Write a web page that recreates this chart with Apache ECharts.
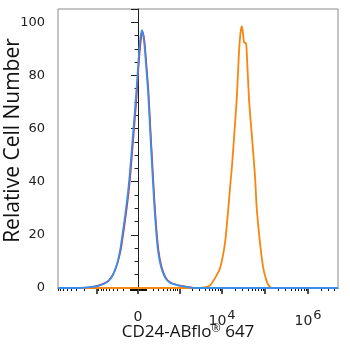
<!DOCTYPE html>
<html>
<head>
<meta charset="utf-8">
<script src="https://cdn.jsdelivr.net/npm/echarts@6/dist/echarts.min.js"></script>
<style>
  html, body { margin: 0; padding: 0; background: #fff; }
  #chart { width: 350px; height: 350px; }
</style>
</head>
<body>
<div id="chart"></div>
<script>
// Fluorescence intensity (linear units) and relative cell counts for each histogram.
const isotypeX = [-8060, -2475, -1380, -800, -510, -380, -295, -238, -203, -157, -116, -89, -52, -16, 6, 30, 54, 78, 104, 131, 159, 190, 222, 258, 297, 360, 460, 620, 960, 1650, 2400, 4980000];
const isotypeY = [0, 0, 0.3, 1.2, 2.8, 5.5, 9.5, 14, 19, 27, 36, 44, 58, 72, 83, 92, 96.5, 93, 84, 74, 60, 46, 33, 22, 14, 8, 4, 2, 1, 0.4, 0, 0];

const blankX = [-8060, -2475, -1443, -835, -531, -394, -306, -249, -214, -167, -125, -98, -60, -24, 0, 24, 48, 73, 98, 125, 153, 183, 214, 249, 286, 348, 445, 596, 932, 1608, 2346, 4980000];
const blankY = [0, 0, 0.3, 1, 2.5, 5, 9, 14, 19, 27, 36, 44, 58, 72, 83, 93, 97, 93, 84, 74, 60, 46, 33, 22, 14, 8, 4, 2, 1, 0.3, 0, 0];

const stainedX = [-8060, 3074, 4237, 5254, 6860, 8970, 11720, 14000, 16160, 17060, 19290, 21940, 24820, 26880, 28660, 30740, 32430, 36110, 37470, 42380, 49020, 58500, 64080, 76460, 91210, 109400, 123800, 145300, 4980000];
const stainedY = [0, 0, 0.3, 1, 3.7, 7.4, 17, 30, 42, 46, 58, 71, 89, 96, 98.5, 96, 92.5, 92, 89, 71, 58, 42, 30, 17, 7.4, 2.5, 0.8, 0, 0];

// Axis tick positions (linear units) and labels.
const majorTicks = [-1000, 0, 1000, 10000, 100000, 1000000];
const zeroTick = [0];
const powerTicks = { '10000': '10{sup|4}', '1000000': '10{sup|6}' };
const xRange = [-8060, 4980000];

// Biexponential-style display transform (arcsinh with a linear region around zero).
const W = 222;
const toDisplay = v => Math.asinh(v / W);

function pairs(xs, ys) {
  return xs.map((x, i) => [toDisplay(x), ys[i]]);
}

// Minor ticks: decades on both sides of zero, within the visible range.
const minorTicks = [];
for (let e = 1; e <= 6; e++) {
  for (let m = 1; m <= 9; m++) {
    const v = m * Math.pow(10, e);
    if (m === 1 && e >= 3) continue;
    if (v < xRange[1]) minorTicks.push(toDisplay(v));
    if (-v > xRange[0]) minorTicks.push(toDisplay(-v));
  }
}

const majorDisplay = majorTicks.map(toDisplay);
const powerDisplay = Object.keys(powerTicks).map(k => toDisplay(Number(k)));

function powerLabel(u) {
  for (const k of Object.keys(powerTicks)) {
    if (Math.abs(toDisplay(Number(k)) - u) < 1e-6) return powerTicks[k];
  }
  return '';
}

const chart = echarts.init(document.getElementById('chart'), null, { renderer: 'canvas' });

const axisRange = { min: toDisplay(xRange[0]), max: toDisplay(xRange[1]) };
const labelFont = { fontFamily: 'DejaVu Sans', fontSize: 14, color: '#222' };

chart.setOption({
  animation: false,
  grid: {
    left: 58, right: 12, top: 9, bottom: 62,
    outerBoundsMode: 'none', containLabel: false,
    show: true, borderColor: '#8a8a8a', borderWidth: 1, backgroundColor: '#fff'
  },
  xAxis: [
    {
      // Major ticks with power-of-ten labels
      type: 'value', position: 'bottom', ...axisRange,
      splitLine: { show: false },
      axisLine: { show: true, lineStyle: { color: '#333', width: 1 } },
      axisTick: { show: true, customValues: majorDisplay, length: 6, lineStyle: { color: '#111', width: 1.5 } },
      axisLabel: {
        customValues: powerDisplay, margin: 21,
        formatter: powerLabel,
        ...labelFont,
        rich: {
          sup: { fontFamily: 'DejaVu Sans', fontSize: 13, color: '#222', padding: [0, 0, 11, 1] }
        }
      },
      name: 'CD24-ABflo{sup|®} 647',
      nameLocation: 'middle', nameGap: 35, nameMoveOverlap: false,
      nameTextStyle: {
        fontFamily: 'Open Sans', fontSize: 17, color: '#111', padding: [0, 20, 0, 0],
        rich: { sup: { fontFamily: 'Open Sans', fontSize: 11, color: '#111', padding: [0, 0, 8, 0] } }
      }
    },
    {
      // Minor ticks and the zero label
      type: 'value', position: 'bottom', ...axisRange,
      splitLine: { show: false },
      axisLine: { show: false },
      axisTick: { show: true, customValues: minorTicks, length: 3, lineStyle: { color: '#111', width: 1 } },
      axisLabel: { show: true, customValues: zeroTick.map(toDisplay), formatter: () => '0', margin: 22, ...labelFont }
    }
  ],
  yAxis: {
    type: 'value', min: 0, max: 105, interval: 20,
    splitLine: { show: false },
    axisLine: { show: true, lineStyle: { color: '#222', width: 1 } },
    axisTick: { show: true, length: 7, lineStyle: { color: '#222', width: 1 } },
    minorTick: { show: true, splitNumber: 4, length: 3.5, lineStyle: { color: '#222', width: 1 } },
    axisLabel: { fontFamily: 'DejaVu Sans', fontSize: 13, color: '#222', margin: 13, showMaxLabel: false },
    name: 'Relative Cell Number',
    nameLocation: 'middle', nameGap: 34, nameMoveOverlap: false,
    nameTextStyle: { fontFamily: 'Open Sans', fontSize: 21, color: '#111', padding: [0, 0, 0, 16] }
  },
  series: [
    {
      name: 'Isotype', type: 'line', data: pairs(isotypeX, isotypeY),
      showSymbol: false, smooth: 0.3, lineStyle: { color: '#e0283a', width: 1.6 }, z: 2
    },
    {
      name: 'Stained', type: 'line', data: pairs(stainedX, stainedY),
      showSymbol: false, smooth: 0.2, lineStyle: { color: '#f7860f', width: 1.8 }, z: 3
    },
    {
      name: 'Blank', type: 'line', data: pairs(blankX, blankY),
      showSymbol: false, smooth: 0.3, lineStyle: { color: '#3a8ee8', width: 1.8 }, z: 4
    }
  ]
});
</script>
</body>
</html>
